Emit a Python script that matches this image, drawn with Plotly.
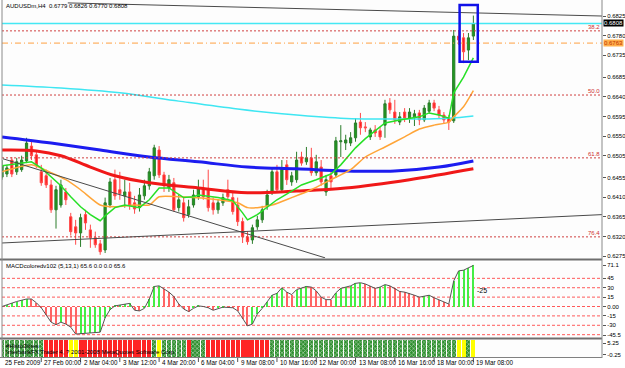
import plotly.graph_objects as go

# ---------------- data ----------------
bars = list(range(97))
opens = [0.6456,0.6463,0.6495,0.6468,0.6473,0.6493,0.6527,0.6507,0.6468,0.6459,
         0.6438,0.6381,0.6392,0.6422,0.6365,0.6342,0.6328,0.6370,0.6335,0.6317,
         0.6303,0.6289,0.6392,0.6450,0.6427,0.6413,0.6422,0.6397,0.6386,0.6413,
         0.6436,0.6459,0.6518,0.6461,0.6431,0.6443,0.6386,0.6397,0.6370,0.6392,
         0.6411,0.6431,0.6427,0.6397,0.6381,0.6397,0.6427,0.6409,0.6392,0.6354,
         0.6319,0.6312,0.6342,0.6358,0.6388,0.6422,0.6468,0.6427,0.6484,0.6445,
         0.6450,0.6502,0.6491,0.6500,0.6466,0.6479,0.6422,0.6459,0.6461,0.6537,
         0.6534,0.6534,0.6546,0.6582,0.6571,0.6548,0.6564,0.6562,0.6575,0.6626,
         0.6605,0.6582,0.6605,0.6591,0.6594,0.6603,0.6587,0.6607,0.6626,0.6610,
         0.6598,0.6591,0.6585,0.6779,0.6775,0.6747,0.6779]
highs = [0.6495,0.6484,0.6502,0.6500,0.6505,0.6546,0.6539,0.6518,0.6484,0.6473,
         0.6450,0.6436,0.6450,0.6431,0.6374,0.6358,0.6372,0.6381,0.6347,0.6331,
         0.6312,0.6409,0.6454,0.6473,0.6468,0.6450,0.6443,0.6413,0.6431,0.6450,
         0.6477,0.6530,0.6527,0.6468,0.6461,0.6454,0.6415,0.6409,0.6404,0.6427,
         0.6450,0.6450,0.6473,0.6409,0.6404,0.6418,0.6450,0.6422,0.6409,0.6363,
         0.6331,0.6347,0.6367,0.6390,0.6427,0.6477,0.6484,0.6495,0.6495,0.6468,
         0.6514,0.6514,0.6525,0.6523,0.6507,0.6495,0.6461,0.6473,0.6548,0.6575,
         0.6553,0.6559,0.6591,0.6603,0.6582,0.6569,0.6575,0.6571,0.6633,0.6637,
         0.6633,0.6605,0.6614,0.6614,0.6610,0.6610,0.6621,0.6633,0.6633,0.6619,
         0.6605,0.6598,0.6793,0.6793,0.6786,0.6786,0.6826]
lows = [0.6450,0.6456,0.6456,0.6461,0.6468,0.6488,0.6495,0.6477,0.6436,0.6431,
        0.6374,0.6338,0.6386,0.6392,0.6322,0.6301,0.6296,0.6335,0.6294,0.6294,
        0.6278,0.6282,0.6386,0.6404,0.6404,0.6386,0.6381,0.6372,0.6377,0.6404,
        0.6427,0.6450,0.6454,0.6422,0.6422,0.6377,0.6377,0.6354,0.6363,0.6386,
        0.6404,0.6404,0.6377,0.6370,0.6372,0.6390,0.6404,0.6370,0.6344,0.6305,
        0.6301,0.6303,0.6335,0.6351,0.6381,0.6415,0.6420,0.6422,0.6438,0.6436,
        0.6443,0.6482,0.6484,0.6459,0.6459,0.6436,0.6413,0.6427,0.6454,0.6502,
        0.6518,0.6527,0.6537,0.6553,0.6559,0.6541,0.6548,0.6541,0.6546,0.6601,
        0.6578,0.6575,0.6582,0.6580,0.6573,0.6575,0.6582,0.6601,0.6607,0.6591,
        0.6578,0.6564,0.6580,0.6759,0.6717,0.6724,0.6770]
closes = [0.6482,0.6477,0.6463,0.6491,0.6495,0.6534,0.6505,0.6484,0.6443,0.6438,
          0.6381,0.6427,0.6438,0.6404,0.6331,0.6328,0.6363,0.6351,0.6317,0.6301,
          0.6285,0.6397,0.6445,0.6413,0.6418,0.6422,0.6392,0.6383,0.6415,0.6436,
          0.6468,0.6523,0.6461,0.6436,0.6450,0.6381,0.6404,0.6363,0.6388,0.6415,
          0.6431,0.6411,0.6386,0.6381,0.6397,0.6409,0.6411,0.6377,0.6354,0.6319,
          0.6308,0.6340,0.6358,0.6381,0.6415,0.6468,0.6427,0.6477,0.6450,0.6459,
          0.6495,0.6488,0.6500,0.6466,0.6491,0.6445,0.6450,0.6445,0.6539,0.6539,
          0.6541,0.6546,0.6580,0.6569,0.6569,0.6564,0.6557,0.6548,0.6624,0.6610,
          0.6587,0.6594,0.6591,0.6605,0.6601,0.6587,0.6614,0.6626,0.6614,0.6598,
          0.6587,0.6582,0.6779,0.6770,0.6743,0.6775,0.6808]

macd = [0,3,6,8,10,12,12,6,-2,-14,
        -25,-29,-25,-28,-33,-44,-43.5,-43,-42.5,-42,
        -41,-18,-5,1,2,4,5,-6,-7,-3,
        12,32,33,28,23,16,4,-4,-8,-3,
        1,0,-2,-6,-3,-1,-1.5,-2,-7,-20,
        -31,-28,-12,-3,8,18,21,30,23,19,
        27,30,32,31,25,15,11,11,22,29,
        31,33,37,38,36,32,29,31,35,33,
        29,24,23,21,18,15,16,18,14,11,
        7,4,41,57,58,62,65.6]

histo_states = list("GGGGGGGGG" "RRRRR" "YY" "RRRRRRRRRR" "RRRRR" "G" "Y" "GGGGG" "R" "GGG"
                    "RRRRRRRRRR" "RRR" "GGGGGGGGGG" "GGGGGGGGGG" "GGGGGGGGGG" "GGGGGGGG"
                    "YY" "G" "Y")

# moving averages read at selected bars
fast_ma_bars = [0,6,8,10,12,14,16,18,20,21,23,25,28,30,32,34,37,39,40,44,47,49,50,52,54,56,59,61,64,67,69,72,74,78,81,85,87,89,91,92,94,96]
fast_ma = [0.6482,0.6491,0.6477,0.6456,0.6436,0.6411,0.6388,0.6370,0.6356,0.6367,0.6386,0.6392,0.6386,0.6404,
           0.6431,0.6431,0.6409,0.6411,0.6415,0.6409,0.6402,0.6374,0.6358,0.6370,0.6388,0.6404,0.6424,0.6438,
           0.6450,0.6463,0.6484,0.6523,0.6544,0.6580,0.6587,0.6594,0.6603,0.6598,0.6591,0.6649,0.6685,0.6729]
mid_ma_bars = [0,6,10,13,16,20,23,27,30,32,36,39,44,48,50,52,55,59,63,67,71,74,78,82,85,88,91,92,94,96]
mid_ma = [0.6468,0.6484,0.6466,0.6450,0.6427,0.6392,0.6388,0.6392,0.6392,0.6411,0.6411,0.6409,0.6404,0.6397,
          0.6386,0.6386,0.6392,0.6409,0.6427,0.6450,0.6473,0.6502,0.6525,0.6548,0.6566,0.6575,0.6582,0.6594,
          0.6617,0.6654]
slow_ma_bars = [0,12,24,36,48,57,69,81,91,96]
slow_ma = [0.6667,0.6660,0.6649,0.6630,0.6612,0.6601,0.6591,0.6589,0.6591,0.6596]
blue_ma_bars = [0,10,20,30,40,50,60,70,80,89,96]
blue_ma = [0.6548,0.6534,0.6518,0.6502,0.6491,0.6479,0.6475,0.6470,0.6470,0.6479,0.6493]
red_ma_bars = [0,7,12,18,23,30,40,50,60,70,83,96]
red_ma = [0.6518,0.6516,0.6505,0.6479,0.6459,0.6443,0.6431,0.6420,0.6424,0.6431,0.6450,0.6475]

fib_levels = [0.6791, 0.6644, 0.6500, 0.6319]
fib_names = ["38.2", "50.0", "61.8", "76.4"]
bid_price = 0.6808
alert_price = 0.6763

trend_lines = [((13.4, 0.6855), (122.2, 0.6825)),
               ((0.0, 0.6305), (122.2, 0.6370)),
               ((0.2, 0.6498), (65.8, 0.6271))]
box_bars = (93.2, 96.9)
box_prices = (0.6720, 0.6850)

price_ticks = [0.6825,0.6780,0.6735,0.6685,0.6640,0.6595,0.6550,0.6505,0.6455,0.6410,0.6365,0.6320,0.6275]
macd_levels = [45, 30, 15, 0, -15, -30, -45]
macd_tick_vals = [66.3, 45, 30, 15, 0, -15, -30, -45.5]
macd_tick_text = ["71.1", "45", "30", "15", "0.00", "-15", "-30", "-45.5"]

time_tick_bars = [8,16,24,32,40,48,56,64,72,80,88,96]
time_tick_text = ["27 Feb 00:00","2 Mar 04:00","3 Mar 12:00","4 Mar 20:00","6 Mar 04:00","9 Mar 08:00",
                  "10 Mar 16:00","12 Mar 00:00","13 Mar 08:00","16 Mar 16:00","18 Mar 00:00","19 Mar 08:00"]

# ---------------- figure ----------------
W, H = 625, 368
FONT = "Liberation Sans"
def py(px):
    return 1 - px / H

fig = go.Figure()

fig.add_trace(go.Candlestick(
    x=bars, open=opens, high=highs, low=lows, close=closes,
    increasing=dict(line=dict(color="#2b7d2b", width=1), fillcolor="#1f9a1f"),
    decreasing=dict(line=dict(color="#ff4a4a", width=1), fillcolor="#ff1e1e"),
    whiskerwidth=0, xaxis="x", yaxis="y", showlegend=False, hoverinfo="skip"))

fig.add_trace(go.Scatter(x=slow_ma_bars, y=slow_ma, mode="lines", line=dict(color="#3fe6f2", width=1.5, shape="spline"),
                         xaxis="x", yaxis="y", showlegend=False, hoverinfo="skip"))
fig.add_trace(go.Scatter(x=blue_ma_bars, y=blue_ma, mode="lines", line=dict(color="#1c1cf0", width=3, shape="spline"),
                         xaxis="x", yaxis="y", showlegend=False, hoverinfo="skip"))
fig.add_trace(go.Scatter(x=red_ma_bars, y=red_ma, mode="lines", line=dict(color="#f01818", width=3, shape="spline"),
                         xaxis="x", yaxis="y", showlegend=False, hoverinfo="skip"))
fig.add_trace(go.Scatter(x=mid_ma_bars, y=mid_ma, mode="lines", line=dict(color="#ffa538", width=1.5, shape="spline", smoothing=0.6),
                         xaxis="x", yaxis="y", showlegend=False, hoverinfo="skip"))
fig.add_trace(go.Scatter(x=fast_ma_bars, y=fast_ma, mode="lines", line=dict(color="#26e026", width=1.5),
                         xaxis="x", yaxis="y", showlegend=False, hoverinfo="skip"))

# MACD histogram + line
hist_colors = ["#44ee44" if (i > 0 and macd[i] > macd[i - 1]) else "#ff6464" for i in range(len(macd))]
hist_colors[0] = "#44ee44"
fig.add_trace(go.Bar(x=bars, y=macd, width=0.22, marker=dict(color=hist_colors, line=dict(width=0)),
                     xaxis="x2", yaxis="y2", showlegend=False, hoverinfo="skip"))
fig.add_trace(go.Scatter(x=bars, y=macd, mode="lines", line=dict(color="#555555", width=1),
                         xaxis="x2", yaxis="y2", showlegend=False, hoverinfo="skip"))

# bottom state histogram
state_fill = {"G": "#2f8f2f", "R": "#ff2424", "Y": "#ffff00"}
state_shape = {"G": "x", "R": "", "Y": ""}
fig.add_trace(go.Bar(x=bars[:len(histo_states)], y=[1 for _ in histo_states], width=0.82,
                     marker=dict(color=[state_fill[s] for s in histo_states], line=dict(width=0),
                                 pattern=dict(shape=[state_shape[s] for s in histo_states],
                                              fgcolor="#175217", size=3, solidity=0.45)),
                     xaxis="x3", yaxis="y3", showlegend=False, hoverinfo="skip"))

shapes = []
# horizontal levels on price panel
for lv in fib_levels:
    shapes.append(dict(type="line", xref="paper", yref="y", x0=0, x1=1, y0=lv, y1=lv,
                       line=dict(color="#d04040", width=1, dash="2px,2px")))
shapes.append(dict(type="line", xref="paper", yref="y", x0=0, x1=1, y0=bid_price, y1=bid_price,
                   line=dict(color="#44e8f4", width=1.5)))
shapes.append(dict(type="line", xref="paper", yref="y", x0=0, x1=1, y0=alert_price, y1=alert_price,
                   line=dict(color="#ffa040", width=1, dash="6px,3px,1px,3px")))
for (a, b) in trend_lines:
    shapes.append(dict(type="line", xref="x", yref="y", x0=a[0], y0=a[1], x1=b[0], y1=b[1],
                       line=dict(color="#4a4a4a", width=1)))
shapes.append(dict(type="rect", xref="x", yref="y", x0=box_bars[0], x1=box_bars[1],
                   y0=box_prices[0], y1=box_prices[1], line=dict(color="#1010e8", width=2.5)))
# MACD levels
for lv in macd_levels:
    shapes.append(dict(type="line", xref="paper", yref="y2", x0=0, x1=1, y0=lv, y1=lv,
                       line=dict(color="#ff5a5a", width=1, dash="3px,2px"), layer="below"))
# panel separators / borders
xl = -2 / 600.0
for ypix, col in [(259.5, "#6e6e6e"), (338.5, "#6e6e6e"), (357.5, "#808080")]:
    shapes.append(dict(type="line", xref="paper", yref="paper", x0=xl, x1=1, y0=py(ypix), y1=py(ypix),
                       line=dict(color=col, width=2 if ypix < 357 else 1)))
shapes.append(dict(type="line", xref="paper", yref="paper", x0=1, x1=1, y0=py(0), y1=py(358),
                   line=dict(color="#8a8a8a", width=1)))
shapes.append(dict(type="line", xref="paper", yref="paper", x0=0, x1=0, y0=py(0), y1=py(358),
                   line=dict(color="#8a8a8a", width=1)))
# time tick marks
for b in time_tick_bars:
    shapes.append(dict(type="line", xref="x", yref="paper", x0=b, x1=b, y0=py(358), y1=py(362),
                       line=dict(color="#555555", width=1)))

ann = []
def txt(x, y, s, xref="paper", yref="paper", size=6, color="#000000", xanchor="left", yanchor="middle", **kw):
    ann.append(dict(x=x, y=y, xref=xref, yref=yref, text=s, showarrow=False, xanchor=xanchor, yanchor=yanchor,
                    font=dict(family=FONT, size=size, color=color), **kw))

txt(2 / 600.0, py(6.5), "AUDUSDm,H4  0.6779 0.6826 0.6770 0.6808")
txt(2 / 600.0, py(266), "MACDcoloredv102 (5,13,1) 65.6 0.0 0.0 65.6")
txt(2 / 600.0, py(345.5), "#Histo3lines", size=6)
txt(2 / 600.0, py(352), "InterbankFX Trader 4, ? 2001-2008 MetaQuotes Software Corp.", size=6)
for lv, nm in zip(fib_levels, fib_names):
    txt(0.9995, lv, nm, yref="y", color="#d03030", xanchor="right", yanchor="bottom", yshift=-1)
txt(1.0, bid_price, "0.6808", yref="y", color="#ffffff", bgcolor="#000000", xshift=1, borderpad=0)
txt(1.0, alert_price, "0.6763", yref="y", color="#c03000", bgcolor="#ffb04c", xshift=1, borderpad=0)
txt(96, 25, "-25", xref="x", yref="y2", size=7, xshift=2)
txt(0, py(362.5), "25 Feb 2009", xref="x", size=6.3, xshift=1)
for b, s in zip(time_tick_bars, time_tick_text):
    txt(b, py(362.5), s, xref="x", size=6.3, xshift=1)

axis_font = dict(family=FONT, size=6, color="#000000")
fig.update_layout(
    width=W, height=H, margin=dict(l=2, r=23, t=0, b=0),
    paper_bgcolor="#ffffff", plot_bgcolor="#fdfdfd",
    showlegend=False, boxgap=0.35, bargap=0,
    shapes=shapes, annotations=ann,
    xaxis=dict(domain=[0, 1], range=[0, 122.2], anchor="y", showticklabels=False, showgrid=False,
               zeroline=False, rangeslider=dict(visible=False), fixedrange=True),
    xaxis2=dict(domain=[0, 1], matches="x", anchor="y2", showticklabels=False, showgrid=False, zeroline=False),
    xaxis3=dict(domain=[0, 1], matches="x", anchor="y3", showticklabels=False, showgrid=False, zeroline=False),
    yaxis=dict(domain=[py(258), 1], range=[0.62706, 0.68617], side="right", tickvals=price_ticks,
               ticktext=["%.4f" % v for v in price_ticks], ticks="outside", ticklen=3, tickcolor="#555555",
               tickfont=axis_font, showgrid=False, zeroline=False, anchor="x"),
    yaxis2=dict(domain=[py(337), py(262)], range=[-48.7, 71.1], side="right", tickvals=macd_tick_vals,
                ticktext=macd_tick_text, ticks="outside", ticklen=3, tickcolor="#555555",
                tickfont=axis_font, showgrid=False, zeroline=False, anchor="x2"),
    yaxis3=dict(domain=[py(357), py(340)], range=[0, 1], side="right", tickvals=[0.8125, 0.125],
                ticktext=["5.25", "-0.25"], ticks="outside", ticklen=3, tickcolor="#555555",
                tickfont=axis_font, showgrid=False, zeroline=False, anchor="x3"),
)

fig.write_html("out.html")
